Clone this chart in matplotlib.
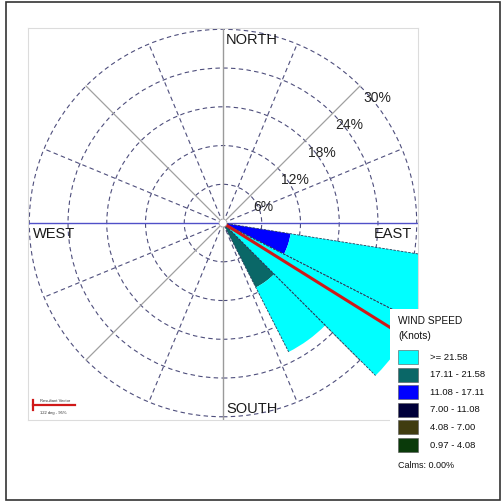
import numpy as np
import matplotlib.pyplot as plt
from matplotlib.patches import Wedge, Rectangle, Circle
from matplotlib.lines import Line2D

plt.rcParams['font.family'] = ['Liberation Sans', 'DejaVu Sans']

W, H = 504, 503

# petal centres (compass degrees) and petal width
directions = [108, 126, 144]
sector_width = 18

speed_labels = ['>= 21.58', '17.11 - 21.58', '11.08 - 17.11', '7.00 - 11.08', '4.08 - 7.00', '0.97 - 4.08']
speed_colors = ['#00ffff', '#0a6767', '#0000ff', '#00003a', '#403c10', '#0a3a0a']

# frequency (%) per direction, one list per speed class
freq_ge_2158 = [33.6, 33.4, 11.2]
freq_1711_2158 = [0.0, 0.0, 11.2]
freq_1108_1711 = [10.6, 0.0, 0.0]
freq_700_1108 = [0.0, 0.0, 0.0]
freq_408_700 = [0.0, 0.0, 0.0]
freq_097_408 = [0.0, 0.0, 0.0]

rings = [6, 12, 18, 24, 30]
resultant_dir = 122
calms = 0.00


def px(x, y):
    # pixel position -> figure fraction
    return x / W, 1 - y / H


def ftext(x, y, s, **kw):
    fx, fy = px(x, y)
    kw.setdefault('zorder', 7)
    fig.text(fx, fy, s, **kw)


def fline(xs, ys, **kw):
    fxs = [x / W for x in xs]
    fys = [1 - y / H for y in ys]
    kw.setdefault('zorder', 7)
    fig.add_artist(Line2D(fxs, fys, transform=fig.transFigure, **kw))


fig = plt.figure(figsize=(W / 100, H / 100), dpi=100)
ax = fig.add_axes([28 / W, 1 - 420 / H, 390 / W, 392 / H])
ax.set_xlim(-30.2, 30.2)
ax.set_ylim(-30.5, 30.2)
ax.set_xticks([])
ax.set_yticks([])
for sp in ax.spines.values():
    sp.set_color('#dcdcdc')
    sp.set_linewidth(0.8)

# grid
for r in rings:
    ax.add_patch(Circle((0, 0), r, fill=False, ls=(0, (4, 3)), ec='#4e4e7c', lw=0.8, zorder=1))
for a in np.arange(0, 360, 22.5):
    if a % 90 == 0:
        continue
    t = np.radians(a)
    if a % 45 == 0:
        ax.plot([0, 30 * np.cos(t)], [0, 30 * np.sin(t)], color='#a0a0a0', lw=0.9, zorder=1)
    else:
        ax.plot([0, 30 * np.cos(t)], [0, 30 * np.sin(t)], color='#4e4e7c', lw=0.8, ls=(0, (4, 3)), zorder=1)
ax.plot([0, 0], [-30.5, 30.2], color='#9a9a9a', lw=1.0, zorder=1)
ax.plot([-30.2, 30.2], [0, 0], color='#5050c8', lw=1.0, zorder=1)

# petals, lowest speed class innermost
classes = [freq_097_408, freq_408_700, freq_700_1108, freq_1108_1711, freq_1711_2158, freq_ge_2158]
colors = speed_colors[::-1]
for i, d in enumerate(directions):
    t1 = 90 - d - sector_width / 2
    t2 = 90 - d + sector_width / 2
    r0 = 0
    for vals, c in zip(classes, colors):
        v = vals[i]
        if v > 0:
            ax.add_patch(Wedge((0, 0), r0 + v, t1, t2, width=v, fc=c, ec='none', zorder=2))
            r0 += v
    for t in (t1, t2):
        tr = np.radians(t)
        ax.plot([0, r0 * np.cos(tr)], [0, r0 * np.sin(tr)], color='#2a3d5c', lw=0.6,
                ls=(0, (3, 1.5)), zorder=2.5)

# resultant vector
tr = np.radians(90 - resultant_dir)
ax.plot([0, 40 * np.cos(tr)], [0, 40 * np.sin(tr)], color='#d01818', lw=2.2, zorder=3)
ax.add_patch(Circle((0, 0), 0.6, fc='white', ec='#b0b0b0', lw=0.5, zorder=4))

# ring labels along the NE diagonal
for r in rings:
    p = r * np.cos(np.radians(45))
    ax.annotate('%d%%' % r, (p, p), xytext=(2.2, -3.5), textcoords='offset points',
                ha='left', va='top', fontsize=10, color='#262626', zorder=5)

# compass labels
ftext(226, 40, 'NORTH', ha='left', va='center', fontsize=10.5, color='#1a1a1a')
ftext(226, 409, 'SOUTH', ha='left', va='center', fontsize=10.5, color='#1a1a1a')
ftext(33, 234, 'WEST', ha='left', va='center', fontsize=10.5, color='#1a1a1a')
ftext(412, 234, 'EAST', ha='right', va='center', fontsize=10.5, color='#1a1a1a')

# legend box
fx, fy = px(390, 478)
fig.add_artist(Rectangle((fx, fy), 107 / W, 169 / H, transform=fig.transFigure,
                         fc='white', ec='none', zorder=6))
ftext(398, 321, 'WIND SPEED', ha='left', va='center', fontsize=7.3, color='#111111')
ftext(398, 336, '(Knots)', ha='left', va='center', fontsize=7.3, color='#111111')
for i, (lab, c) in enumerate(zip(speed_labels, speed_colors)):
    y_top = 350 + i * 17.6
    sx, sy = px(398, y_top + 14)
    fig.add_artist(Rectangle((sx, sy), 20 / W, 14 / H, transform=fig.transFigure,
                             fc=c, ec='#555555', lw=0.4, zorder=7))
    ftext(430, y_top + 7, lab, ha='left', va='center', fontsize=6.8, color='#111111')
ftext(398, 466, 'Calms: %.2f%%' % calms, ha='left', va='center', fontsize=6.5, color='#111111')

# resultant vector key
fline([33, 75], [405, 405], color='#d01818', lw=1.6)
fline([33, 33], [400, 410], color='#d01818', lw=1.6)
ftext(40, 401, 'Resultant Vector', ha='left', va='center', fontsize=3, color='#333333')
ftext(40, 413, '122 deg - 95%', ha='left', va='center', fontsize=3, color='#333333')

# outer frame
fx, fy = px(6, 500)
fig.add_artist(Rectangle((fx, fy), 494 / W, 498 / H, transform=fig.transFigure,
                         fill=False, ec='#333333', lw=1.2, zorder=8))

fig.savefig('out.png', dpi=100)
